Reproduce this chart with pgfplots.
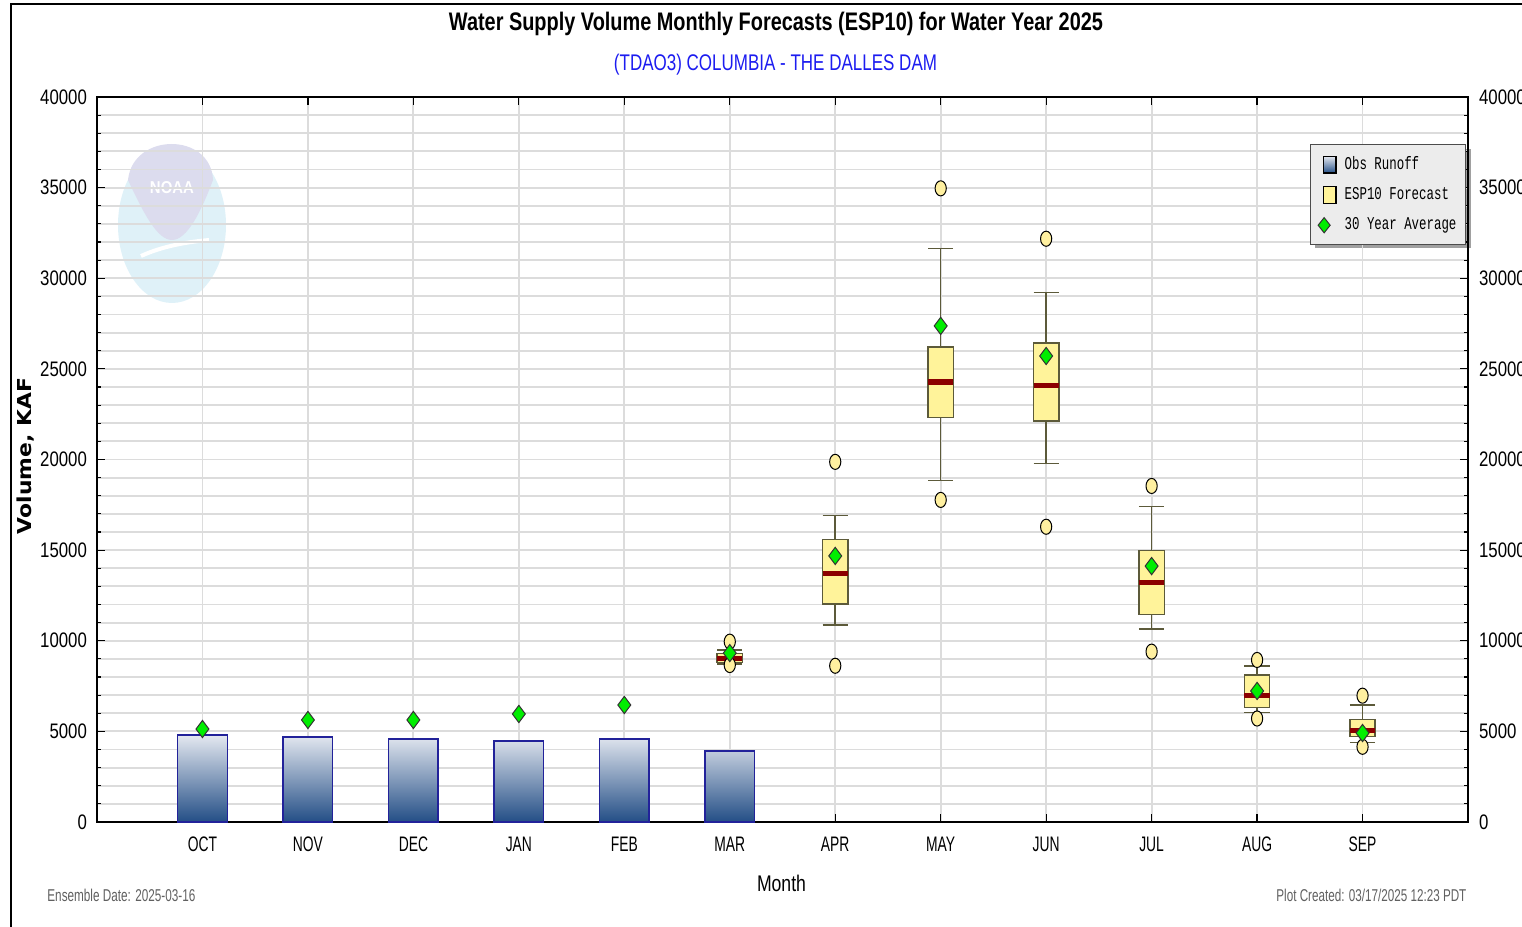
\documentclass[border=0pt]{standalone}
\usepackage{graphicx}
\usepackage{pgfplots}
\pgfplotsset{compat=1.18}
\usepgfplotslibrary{statistics}
\usepackage{fontspec}
\setmainfont{Liberation Sans}
\newfontfamily\condfont[FakeStretch=0.8]{Liberation Sans}
\newfontfamily\monthfont[FakeStretch=0.66]{Liberation Sans}
\newfontfamily\legfont[FakeStretch=0.69]{Liberation Mono}
\newfontfamily\ylabfont{DejaVu Sans}

\definecolor{gridgray}{HTML}{DCDCDC}
\definecolor{bartop}{HTML}{E4E8F0}
\definecolor{barbot}{HTML}{234E86}
\definecolor{barborder}{HTML}{22229A}
\definecolor{boxfill}{HTML}{FFF39A}
\definecolor{boxborder}{HTML}{5C5A3A}
\definecolor{medred}{HTML}{8B0000}
\definecolor{outfill}{HTML}{FFF0A0}
\definecolor{avggreen}{HTML}{00EE00}
\definecolor{legfill}{HTML}{ECECEC}
\definecolor{shadowgray}{HTML}{A0A0A0}
\definecolor{subblue}{HTML}{1C1CF0}
\definecolor{footgray}{HTML}{606060}
\definecolor{logocyan}{HTML}{DFF1F8}
\definecolor{logolav}{HTML}{DCDCEE}

\pgfdeclareplotmark{vellipse}{%
  \pgfpathellipse{\pgfpointorigin}{\pgfqpoint{\pgfplotmarksize}{0pt}}{\pgfqpoint{0pt}{1.35\pgfplotmarksize}}%
  \pgfusepathqfillstroke}

\pgfplotsset{
  esp/.style={solid, draw=boxborder, fill=boxfill, line width=0.75pt,
    boxplot/draw direction=y,
    boxplot/box extend=0.24, boxplot/whisker extend=0.24,
    boxplot/every median/.style={draw=medred, line width=2.6pt},
    forget plot},
}

\begin{document}
\begin{tikzpicture}
\useasboundingbox (-48.5pt,-52.5pt) rectangle (712.5pt,411pt);
\clip (-48.5pt,-52.5pt) rectangle (712.5pt,411pt);

% faint logo watermark
\fill[logocyan] (37.5pt,298.5pt) ellipse [x radius=27pt, y radius=39pt];
\fill[logolav] (15.5pt,321pt) .. controls (18pt,345pt) and (57pt,345pt) .. (58pt,321pt)
  .. controls (52pt,305pt) and (45pt,291pt) .. (37.5pt,291pt)
  .. controls (30pt,291pt) and (23pt,305pt) .. (15.5pt,321pt);
\draw[white, line width=2pt] (22pt,283pt) .. controls (33pt,288pt) and (45pt,290pt) .. (56pt,291pt);
\node[white, inner sep=0pt] at (37.5pt,317pt) {\resizebox{22pt}{6pt}{\bfseries NOAA}};

% legend shadow (drawn before the axis so the legend box covers it)
\fill[shadowgray] (609pt,287.2pt) rectangle (687.2pt,336.5pt);

% all volumes below are in thousands of KAF
\begin{axis}[
  at={(0,0)}, anchor=south west,
  scale only axis, width=685.5pt, height=362.5pt,
  xmin=-1, xmax=12, ymin=0, ymax=40,
  xtick={0,...,11},
  xticklabels={OCT,NOV,DEC,JAN,FEB,MAR,APR,MAY,JUN,JUL,AUG,SEP},
  ytick={0,5,...,40}, minor y tick num=4,
  yticklabels={0,5000,10000,15000,20000,25000,30000,35000,40000},
  xtick pos=both, ytick pos=both, yticklabel pos=left,
  tick align=inside,
  major tick length=4pt, minor tick length=2.2pt,
  tick style={draw=black, line width=0.6pt},
  axis line style={line width=0.7pt},
  xmajorgrids, ymajorgrids, yminorgrids,
  major grid style={draw=gridgray, line width=0.9pt},
  minor grid style={draw=gridgray, line width=0.9pt},
  yticklabel style={font=\condfont\fontsize{10.5}{12}\selectfont, xshift=-1.5pt},
  xticklabel style={font=\monthfont\fontsize{10.5}{12}\selectfont, yshift=-4pt},
  legend style={draw=black!70, fill=legfill, line width=0.5pt,
    font=\legfont\fontsize{9}{10}\selectfont,
    at={(rel axis cs:0.9985,0.935)}, anchor=north east,
    row sep=3.5pt, inner xsep=2.5pt, inner ysep=4pt},
  legend cell align=left,
]
% observed runoff
\addplot[ybar, bar width=0.47, draw=barborder, line width=0.7pt,
  top color=bartop, bottom color=barbot, forget plot]
  coordinates {(0,4.80) (1,4.69) (2,4.58) (3,4.47) (4,4.58) (5,3.92)};

% ESP10 forecast boxes
\addplot[esp, boxplot prepared={draw position=5, lower whisker=8.72, lower quartile=8.80, median=9.00, upper quartile=9.30, upper whisker=9.49}] coordinates {};
\addplot[esp, boxplot prepared={draw position=6, lower whisker=10.87, lower quartile=12.04, median=13.72, upper quartile=15.59, upper whisker=16.90}] coordinates {};
\addplot[esp, boxplot prepared={draw position=7, lower whisker=18.84, lower quartile=22.32, median=24.28, upper quartile=26.21, upper whisker=31.65}] coordinates {};
\addplot[esp, boxplot prepared={draw position=8, lower whisker=19.79, lower quartile=22.12, median=24.07, upper quartile=26.44, upper whisker=29.20}] coordinates {};
\addplot[esp, boxplot prepared={draw position=9, lower whisker=10.65, lower quartile=11.45, median=13.22, upper quartile=14.97, upper whisker=17.42}] coordinates {};
\addplot[esp, boxplot prepared={draw position=10, lower whisker=6.05, lower quartile=6.33, median=6.97, upper quartile=8.11, upper whisker=8.61}] coordinates {};
\addplot[esp, boxplot prepared={draw position=11, lower whisker=4.40, lower quartile=4.71, median=5.04, upper quartile=5.65, upper whisker=6.455}] coordinates {};

% ESP10 extremes
\addplot[only marks, mark=vellipse, mark size=2.8pt,
  mark options={fill=outfill, draw=black, line width=0.5pt}, forget plot]
  coordinates {(5,9.95) (5,8.66) (6,19.87) (6,8.62) (7,34.96) (7,17.77)
               (8,32.18) (8,16.29) (9,18.54) (9,9.40) (10,8.94) (10,5.71)
               (11,6.97) (11,4.15)};

% 30 year average
\addplot[only marks, mark=diamond*, mark size=4.3pt,
  mark options={fill=avggreen, draw=black!80, line width=0.5pt}, forget plot]
  coordinates {(0,5.13) (1,5.63) (2,5.63) (3,5.96) (4,6.455) (5,9.32)
               (6,14.68) (7,27.37) (8,25.71) (9,14.12) (10,7.23) (11,4.91)};

\addlegendimage{legend image code/.code={\path (-3.5pt,0pt) (8.5pt,0pt);\draw[draw=black, line width=0.6pt, top color=bartop, bottom color=barbot] (0pt,-4.2pt) rectangle (6.4pt,4.2pt);}}
\addlegendentry{Obs Runoff}
\addlegendimage{legend image code/.code={\path (-3.5pt,0pt) (8.5pt,0pt);\draw[draw=black, line width=0.6pt, fill=boxfill] (0pt,-4.2pt) rectangle (6.4pt,4.2pt);}}
\addlegendentry{ESP10 Forecast}
\addlegendimage{legend image code/.code={\path (-3.5pt,0pt) (8.5pt,0pt);\draw[draw=black!80, line width=0.5pt, fill=avggreen] (-2.5pt,0pt) -- (0.5pt,3.8pt) -- (3.5pt,0pt) -- (0.5pt,-3.8pt) -- cycle;}}
\addlegendentry{30 Year Average}
\end{axis}

% right-hand labels
\begin{axis}[
  at={(0,0)}, anchor=south west,
  scale only axis, width=685.5pt, height=362.5pt,
  xmin=-1, xmax=12, ymin=0, ymax=40,
  axis x line=none, axis y line*=right,
  y axis line style={draw=none},
  ytick={0,5,...,40}, major tick length=0pt,
  yticklabels={0,5000,10000,15000,20000,25000,30000,35000,40000},
  yticklabel style={font=\condfont\fontsize{10.5}{12}\selectfont, xshift=2pt},
]
\end{axis}

% titles and labels
\node[anchor=base, inner sep=0pt] at (339.5pt,395.5pt)
  {\resizebox{327pt}{9.2pt}{\bfseries Water Supply Volume Monthly Forecasts (ESP10) for Water Year 2025}};
\node[anchor=base, inner sep=0pt, text=subblue] at (339.25pt,375.5pt)
  {\resizebox{161.5pt}{8.2pt}{(TDAO3) COLUMBIA - THE DALLES DAM}};
\node[anchor=base, inner sep=0pt, rotate=90] at (-32.5pt,183pt)
  {\resizebox{78pt}{7.3pt}{\ylabfont\bfseries Volume, KAF}};
\node[anchor=base, inner sep=0pt] at (342.25pt,-34.5pt)
  {\resizebox{24.5pt}{8.2pt}{Month}};
\node[anchor=base west, inner sep=0pt, text=footgray] at (-25pt,-39.5pt)
  {\resizebox{74pt}{6.2pt}{Ensemble Date: 2025-03-16}};
\node[anchor=base west, inner sep=0pt, text=footgray] at (589.5pt,-39.5pt)
  {\resizebox{95pt}{6.2pt}{Plot Created: 03/17/2025 12:23 PDT}};

% outer frame
\draw[black, line width=1pt] (-43pt,-53pt) -- (-43pt,409pt) -- (713pt,409pt);
\end{tikzpicture}
\end{document}
